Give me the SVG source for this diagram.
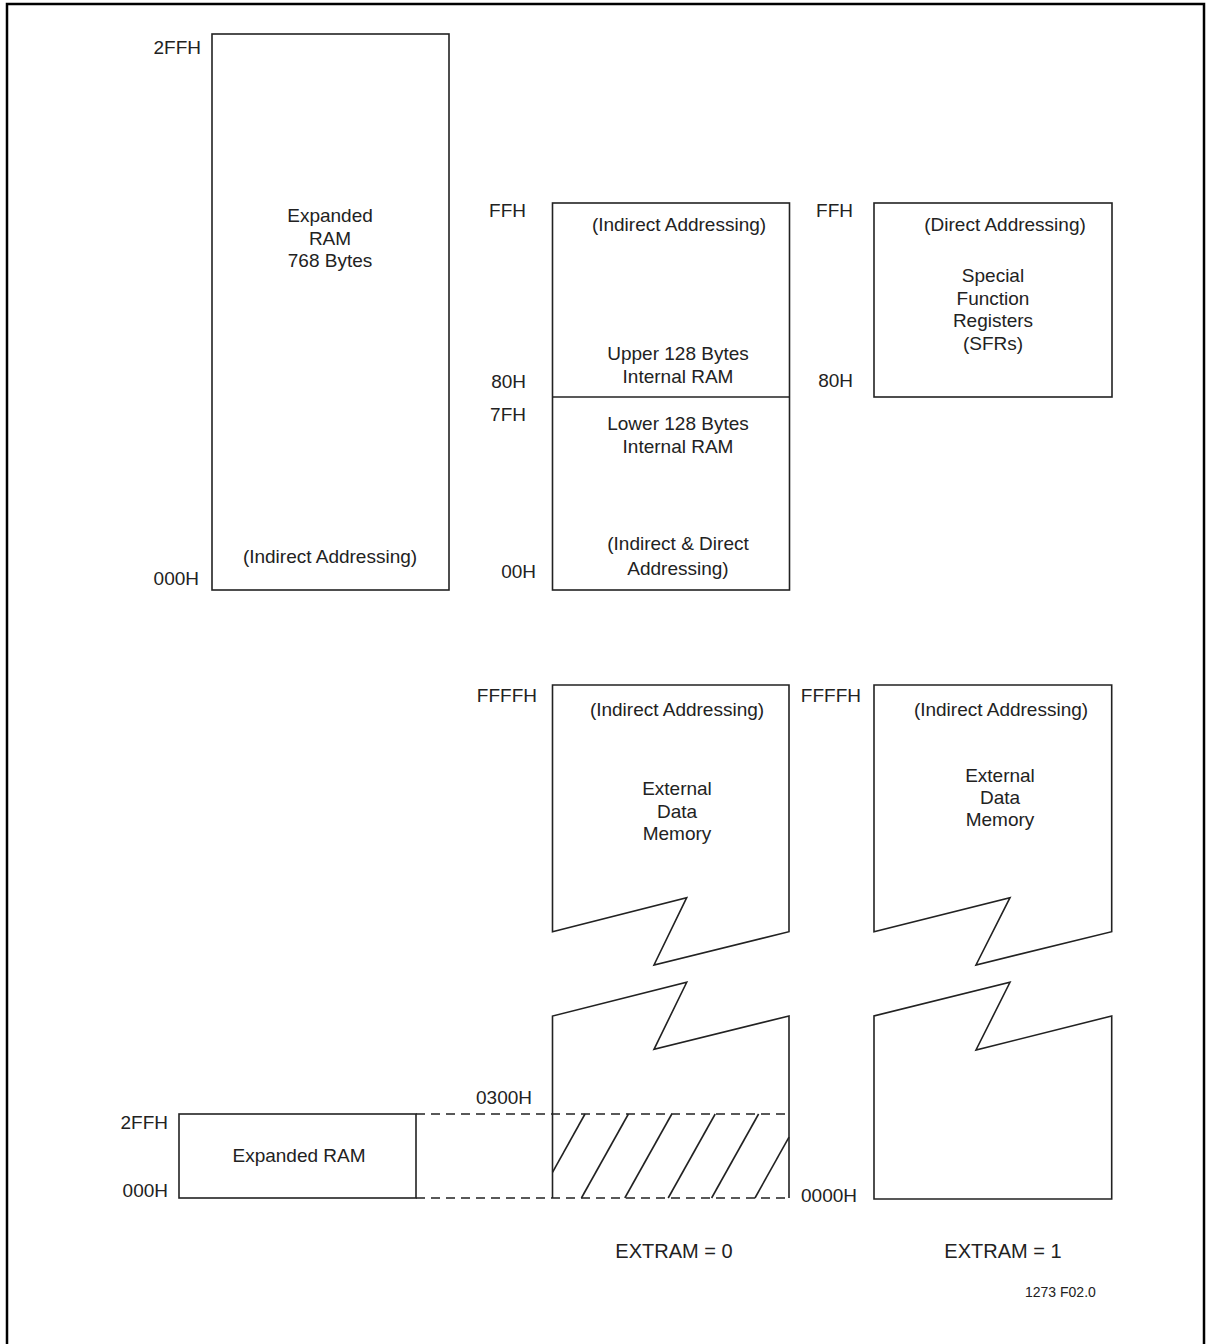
<svg xmlns="http://www.w3.org/2000/svg" width="1213" height="1344" viewBox="0 0 1213 1344">
<style>
.t{font-family:"Liberation Sans",Arial,sans-serif;font-size:19px;fill:#222}
.m{text-anchor:middle}
.e{text-anchor:end}
.s{fill:none;stroke:#222;stroke-width:1.6}
.d{fill:none;stroke:#222;stroke-width:1.6;stroke-dasharray:9 6}
</style>
<rect x="0" y="0" width="1213" height="1344" fill="#fff"/>
<rect x="7" y="4" width="1197" height="1350" fill="none" stroke="#000" stroke-width="2.5"/>

<g id="expanded-ram-768">
<rect class="s" x="212" y="34" width="237" height="556"/>
<text class="t m" x="330" y="222">Expanded</text>
<text class="t m" x="330" y="244.5">RAM</text>
<text class="t m" x="330" y="267">768 Bytes</text>
<text class="t m" x="330" y="563">(Indirect Addressing)</text>
<text class="t e" x="201" y="54">2FFH</text>
<text class="t e" x="199" y="585">000H</text>
</g>

<g id="internal-ram">
<rect class="s" x="552.5" y="203" width="237" height="387"/>
<line class="s" x1="552.5" y1="397" x2="789.5" y2="397"/>
<text class="t m" x="679" y="231">(Indirect Addressing)</text>
<text class="t m" x="678" y="360">Upper 128 Bytes</text>
<text class="t m" x="678" y="383">Internal RAM</text>
<text class="t m" x="678" y="430">Lower 128 Bytes</text>
<text class="t m" x="678" y="453">Internal RAM</text>
<text class="t m" x="678" y="550">(Indirect &amp; Direct</text>
<text class="t m" x="678" y="575">Addressing)</text>
<text class="t e" x="526" y="217">FFH</text>
<text class="t e" x="526" y="388">80H</text>
<text class="t e" x="526" y="421">7FH</text>
<text class="t e" x="536" y="578">00H</text>
</g>

<g id="sfr">
<rect class="s" x="874" y="203" width="238" height="194"/>
<text class="t m" x="1005" y="231">(Direct Addressing)</text>
<text class="t m" x="993" y="282">Special</text>
<text class="t m" x="993" y="304.5">Function</text>
<text class="t m" x="993" y="327">Registers</text>
<text class="t m" x="993" y="349.5">(SFRs)</text>
<text class="t e" x="853" y="217">FFH</text>
<text class="t e" x="853" y="387">80H</text>
</g>

<g id="external-extram0">
<path class="s" d="M552.5,685 V931.7 L686.7,897.7 L654,965 L789,931.7 V685 Z"/>
<path class="s" d="M552.5,1198 V1016 L686.7,982.3 L654,1049.3 L789,1016 V1198"/>
<text class="t m" x="677" y="716">(Indirect Addressing)</text>
<text class="t m" x="677" y="795">External</text>
<text class="t m" x="677" y="817.5">Data</text>
<text class="t m" x="677" y="840">Memory</text>
<text class="t e" x="537" y="702">FFFFH</text>
<text class="t e" x="532" y="1104">0300H</text>
<g id="hatch">
<line class="s" x1="585" y1="1114" x2="552.5" y2="1172.4"/>
<line class="s" x1="628.4" y1="1114" x2="581.4" y2="1198"/>
<line class="s" x1="671.8" y1="1114" x2="624.8" y2="1198"/>
<line class="s" x1="715.2" y1="1114" x2="668.2" y2="1198"/>
<line class="s" x1="758.6" y1="1114" x2="711.6" y2="1198"/>
<line class="s" x1="789" y1="1137.2" x2="755" y2="1198"/>
</g>
</g>

<g id="external-extram1">
<path class="s" d="M874,685 V931.7 L1010,897.7 L976,965 L1111.7,931.7 V685 Z"/>
<path class="s" d="M874,1199 V1016 L1010,982.3 L976,1050 L1111.7,1016 V1199 Z"/>
<text class="t m" x="1001" y="716">(Indirect Addressing)</text>
<text class="t m" x="1000" y="781.5">External</text>
<text class="t m" x="1000" y="804">Data</text>
<text class="t m" x="1000" y="826">Memory</text>
<text class="t e" x="861" y="702">FFFFH</text>
<text class="t" x="801" y="1202">0000H</text>
</g>

<g id="expanded-ram-small">
<rect class="s" x="179" y="1114" width="237" height="84"/>
<text class="t m" x="299" y="1162">Expanded RAM</text>
<text class="t e" x="168" y="1129">2FFH</text>
<text class="t e" x="168" y="1197">000H</text>
</g>

<g id="connectors">
<line class="d" x1="416" y1="1114" x2="789" y2="1114"/>
<line class="d" x1="416" y1="1198" x2="789" y2="1198"/>
</g>

<g id="captions">
<text class="t m" x="674" y="1258" style="font-size:20px">EXTRAM = 0</text>
<text class="t m" x="1003" y="1258" style="font-size:20px">EXTRAM = 1</text>
<text class="t" x="1025" y="1297" style="font-size:14px">1273 F02.0</text>
</g>
</svg>
